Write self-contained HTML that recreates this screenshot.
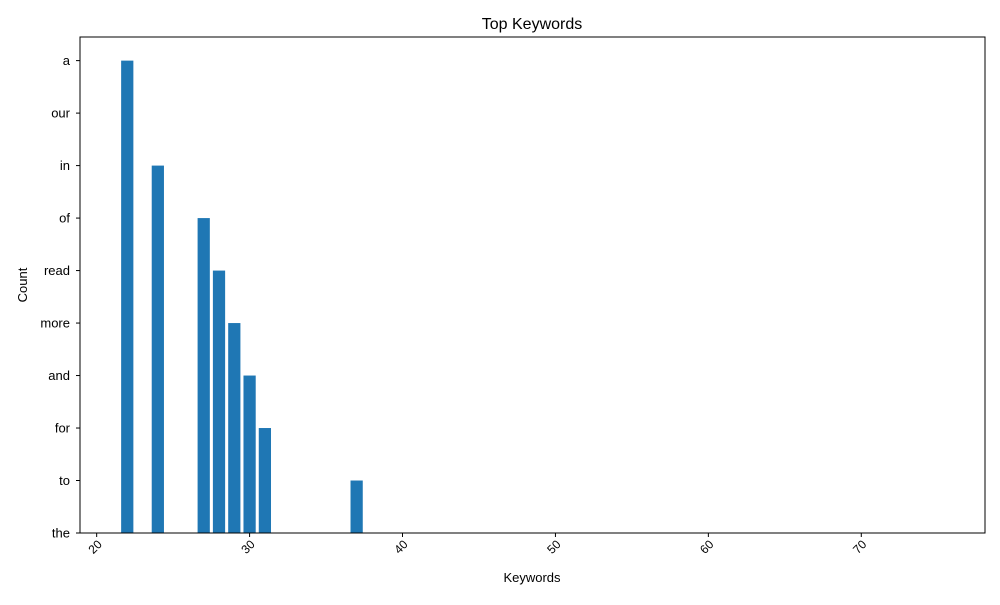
<!DOCTYPE html>
<html><head><meta charset="utf-8"><style>
body{margin:0;background:#fff;font-family:"Liberation Sans","DejaVu Sans",sans-serif;}
svg text{font-family:"Liberation Sans","DejaVu Sans",sans-serif;fill:#000;}
</style></head><body>
<svg id="chart" width="1000" height="600" viewBox="0 0 1000 600" xmlns="http://www.w3.org/2000/svg">
<rect width="1000" height="600" fill="#fff"/>
<text x="532" y="29" font-size="16" text-anchor="middle">Top Keywords</text>
<text x="532" y="582" font-size="13" text-anchor="middle">Keywords</text>
<text transform="translate(27,285) rotate(-90)" font-size="13" text-anchor="middle">Count</text>
<g id="bars"></g><g id="xt"></g><g id="yt"></g>
<rect x="80" y="37" width="905" height="496" fill="none" stroke="#000" stroke-width="1"/>
</svg>
<script>
const categories = ["the","to","for","and","more","read","of","in","our","a"];
const xValues = [22,24,27,28,29,30,31,37,75];
const yLabels = ["a","in","of","read","more","and","for","to","the"];
const xTicks = [20,30,40,50,60,70];
const NS="http://www.w3.org/2000/svg";
const L=80,R=985,T=37,B=533;
const xmin=Math.min(...xValues)-0.4, xmaxv=Math.max(...xValues)+0.4, span=xmaxv-xmin;
const x0=xmin-0.05*span, x1=xmaxv+0.05*span;
const xs=v=>L+(v-x0)/(x1-x0)*(R-L);
const ymax=(categories.length-1)*1.05;
const ys=i=>B-i/ymax*(B-T);
const bw=xs(0.8)-xs(0);
const bars=document.getElementById('bars');
xValues.forEach((v,k)=>{
  const idx=categories.indexOf(yLabels[k]);
  const r=document.createElementNS(NS,'rect');
  
  
  r.setAttribute('x',xs(v)-bw/2);r.setAttribute('width',bw);
  r.setAttribute('y',ys(idx));r.setAttribute('height',B-ys(idx));
  r.setAttribute('fill','#1f77b4');bars.appendChild(r);
});
const xt=document.getElementById('xt');
xTicks.forEach(t=>{
  const x=xs(t);
  const l=document.createElementNS(NS,'line');
  
  
  l.setAttribute('x1',x);l.setAttribute('x2',x);l.setAttribute('y1',B);l.setAttribute('y2',B+4);l.setAttribute('stroke','#000');xt.appendChild(l);
  const s=document.createElementNS(NS,'text');
  
  
  s.setAttribute('font-size','12');s.setAttribute('text-anchor','end');
  s.setAttribute('transform','translate('+(x+6)+','+(B+12)+') rotate(-45)');
  s.textContent=t;xt.appendChild(s);
});
const yt=document.getElementById('yt');
categories.forEach((c,i)=>{
  const y=ys(i);
  const l=document.createElementNS(NS,'line');
  
  
  l.setAttribute('x1',L-4);l.setAttribute('x2',L);l.setAttribute('y1',y);l.setAttribute('y2',y);l.setAttribute('stroke','#000');yt.appendChild(l);
  const s=document.createElementNS(NS,'text');
  
  
  s.setAttribute('font-size','13');s.setAttribute('text-anchor','end');
  s.setAttribute('x',L-10);s.setAttribute('y',y+4.5);
  s.textContent=c;yt.appendChild(s);
});
</script>
</body></html>
